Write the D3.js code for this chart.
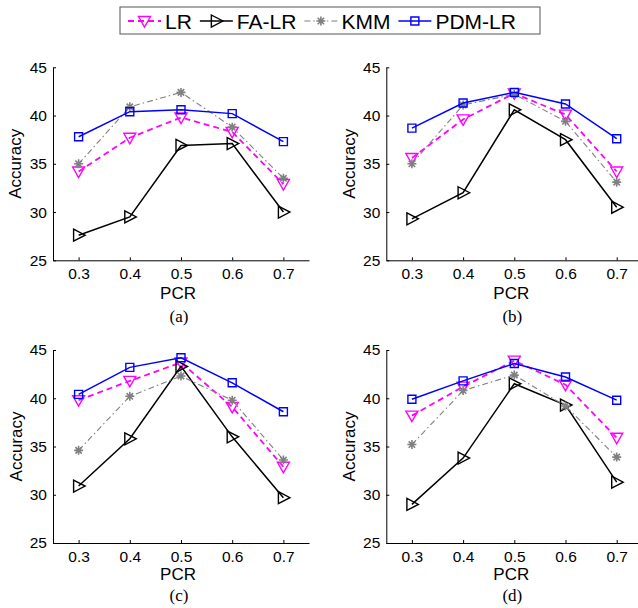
<!DOCTYPE html>
<html>
<head>
<meta charset="utf-8">
<script src="https://cdn.jsdelivr.net/npm/d3@7"></script>
<style>
  body { margin: 0; background: #fff; }
  svg { display: block; }
  text { font-family: "Liberation Sans", Arial, sans-serif; fill: #000; }
</style>
</head>
<body>
<svg id="chart" width="638" height="608"></svg>
<script>
// PCR values on the x axis
const pcr = [0.3, 0.4, 0.5, 0.6, 0.7];
const yTicks = [25, 30, 35, 40, 45];
const methods = ["LR", "FA-LR", "KMM", "PDM-LR"];
const panelNames = ["(a)", "(b)", "(c)", "(d)"];

// accuracy per panel
const lrA = [34.2, 37.7, 39.8, 38.3, 32.9];
const faA = [27.6, 29.5, 36.9, 37.1, 30.0];
const kmmA = [35.0, 40.9, 42.4, 38.8, 33.5];
const pdmA = [37.8, 40.4, 40.6, 40.2, 37.3];

const lrB = [35.6, 39.6, 42.3, 40.1, 34.2];
const faB = [29.3, 32.0, 40.6, 37.5, 30.5];
const kmmB = [35.0, 41.1, 42.2, 39.4, 33.1];
const pdmB = [38.7, 41.3, 42.4, 41.2, 37.6];

const lrC = [39.8, 41.8, 43.7, 39.1, 32.9];
const faC = [30.9, 35.8, 43.3, 36.0, 29.7];
const kmmC = [34.6, 40.2, 42.3, 39.8, 33.6];
const pdmC = [40.4, 43.2, 44.2, 41.6, 38.6];

const lrD = [38.2, 41.2, 43.9, 41.4, 35.9];
const faD = [29.0, 33.8, 41.5, 39.3, 31.3];
const kmmD = [35.2, 40.8, 42.4, 39.2, 33.9];
const pdmD = [39.9, 41.8, 43.6, 42.2, 39.8];

const panelData = [
	[lrA, faA, kmmA, pdmA],
	[lrB, faB, kmmB, pdmB],
	[lrC, faC, kmmC, pdmC],
	[lrD, faD, kmmD, pdmD],
];

// line style for each method
const styles = [
	{ color: "#ff00ff", width: 1.8, dash: "6,4", marker: "down" },
	{ color: "#000000", width: 1.5, dash: null, marker: "right" },
	{ color: "#808080", width: 1.1, dash: "6,3,1.5,3", marker: "star" },
	{ color: "#0000ff", width: 1.5, dash: null, marker: "square" },
];

const markerPaths = {
	down: "M-6,-4.5L6,-4.5L0,6Z",
	right: "M-5,-6L6.5,0L-5,6Z",
	star: "M-4.5,0L4.5,0M0,-4.5L0,4.5M-3.2,-3.2L3.2,3.2M-3.2,3.2L3.2,-3.2",
	square: "M-4,-4L4,-4L4,4L-4,4Z",
};

const svg = d3.select("#chart");

// axes positions for the four panels
const panels = [
	{ left: 53, top: 67.3, pcrY: 299, labelY: 322, yLabelX: 15 },
	{ left: 386.3, top: 67.3, pcrY: 299, labelY: 322, yLabelX: 349 },
	{ left: 53, top: 350, pcrY: 580, labelY: 601, yLabelX: 16 },
	{ left: 386.3, top: 350, pcrY: 580, labelY: 601, yLabelX: 349 },
];
const pw = 256;
const ph = 193;

function drawMarker(g, type, color, x, y) {
	g.append("path")
		.attr("d", markerPaths[type])
		.attr("transform", "translate(" + x + "," + y + ")")
		.attr("fill", "none")
		.attr("stroke", color)
		.attr("stroke-width", type === "star" ? 1.6 : 1.4);
}

panels.forEach((p, i) => {
	const x = d3.scaleLinear().domain([0.25, 0.75]).range([p.left, p.left + pw]);
	const y = d3.scaleLinear().domain([25, 45]).range([p.top + ph, p.top]);

	const xAxis = d3.axisBottom(x).tickValues(pcr).tickSizeInner(-3).tickSizeOuter(0)
		.tickPadding(8).tickFormat(d3.format(".1f"));
	const yAxis = d3.axisLeft(y).tickValues(yTicks).tickSizeInner(-3).tickSizeOuter(0)
		.tickPadding(6);

	const gx = svg.append("g")
		.attr("transform", "translate(0," + (p.top + ph) + ")")
		.call(xAxis);
	const gy = svg.append("g")
		.attr("transform", "translate(" + p.left + ",0)")
		.call(yAxis);
	[gx, gy].forEach((g) => {
		g.selectAll("text").style("font-size", "15.5px").attr("fill", "#000");
		g.selectAll("line, path").attr("stroke", "#000");
	});

	// axis labels
	svg.append("text")
		.attr("x", p.left + pw / 2 - 3)
		.attr("y", p.pcrY)
		.attr("text-anchor", "middle")
		.style("font-size", "17px")
		.text("PCR");
	svg.append("text")
		.attr("transform", "translate(" + (p.yLabelX + 6) + "," + (p.top + ph / 2) + ") rotate(-90)")
		.attr("text-anchor", "middle")
		.style("font-size", "17px")
		.text("Accuracy");
	svg.append("text")
		.attr("x", p.left + pw / 2 - 2)
		.attr("y", p.labelY)
		.attr("text-anchor", "middle")
		.style("font-family", "'Liberation Serif', 'Times New Roman', serif")
		.style("font-size", "17px")
		.text(panelNames[i]);

	const line = d3.line().x((d, k) => x(pcr[k])).y((d) => y(d));

	panelData[i].forEach((vals, m) => {
		const s = styles[m];
		svg.append("path")
			.datum(vals)
			.attr("d", line)
			.attr("fill", "none")
			.attr("stroke", s.color)
			.attr("stroke-width", s.width)
			.attr("stroke-dasharray", s.dash);
		const g = svg.append("g");
		vals.forEach((v, k) => drawMarker(g, s.marker, s.color, x(pcr[k]), y(v)));
	});
});

// legend on top
const legend = svg.append("g");
legend.append("rect")
	.attr("x", 120).attr("y", 7)
	.attr("width", 420).attr("height", 27)
	.attr("fill", "#fff")
	.attr("stroke", "#555")
	.attr("stroke-width", 1);

let lx = 128;
methods.forEach((name, m) => {
	const s = styles[m];
	legend.append("line")
		.attr("x1", lx).attr("x2", lx + 33)
		.attr("y1", 21).attr("y2", 21)
		.attr("stroke", s.color)
		.attr("stroke-width", s.width)
		.attr("stroke-dasharray", s.dash);
	drawMarker(legend, s.marker, s.color, lx + 16.5, 21);
	const t = legend.append("text")
		.attr("x", lx + 37)
		.attr("y", 29)
		.style("font-size", "21px")
		.text(name);
	lx += 37 + t.node().getComputedTextLength() + 8;
});
</script>
</body>
</html>
